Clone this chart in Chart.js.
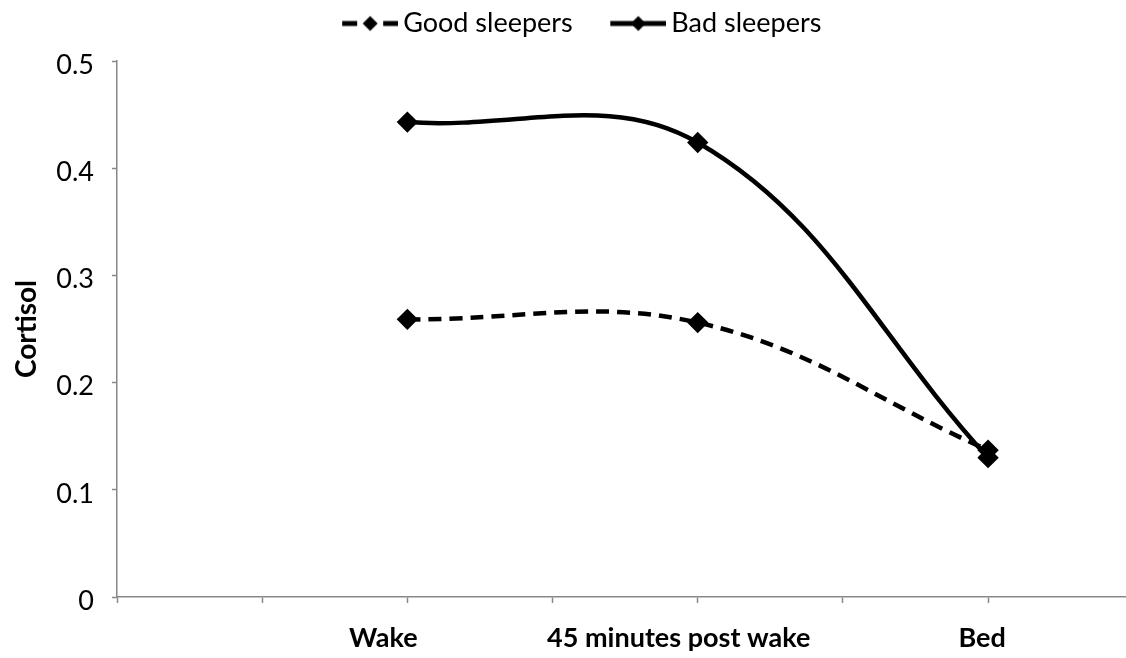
<!DOCTYPE html>
<html>
<head>
<meta charset="utf-8">
<script src="https://cdn.jsdelivr.net/npm/chart.js@4.4.1/dist/chart.umd.min.js"></script>
<style>
  html, body { margin: 0; padding: 0; background: #ffffff; }
  #wrap { width: 1126px; height: 658px; position: relative; }
</style>
</head>
<body>
<div id="wrap"><canvas id="c" width="1126" height="658"></canvas></div>
<script>
// ---- data ----
const tickLabels = ['', '', 'Wake', '', '45 minutes post wake', '', 'Bed'];
const categories = ['Wake', '45 minutes post wake', 'Bed'];
const goodSleepers = [0.259, 0.256, 0.137];
const badSleepers = [0.443, 0.424, 0.130];
const seriesNames = ['Good sleepers', 'Bad sleepers'];
const yTickValues = [0, 0.1, 0.2, 0.3, 0.4, 0.5];

// ---- style ----
const FONT = 'Lato, "Open Sans", sans-serif';
const FS = 27;
const labelShiftPx = [-24, -19, -6];   // category labels sit slightly left of their tick, as in the original
const LABEL_Y = 638;

function toPoints(values) {
  return categories.map((c, i) => ({ x: tickLabels.indexOf(c), y: values[i] }));
}

// legend sample images (line + diamond)
const BOXW = 75, EXTRA = 8.5, SAMPLE_W = 56;
function legendSample(dashed) {
  const cv = document.createElement('canvas');
  cv.width = BOXW + 2 * EXTRA; cv.height = 20;
  const g = cv.getContext('2d');
  g.fillStyle = '#000';
  g.strokeStyle = '#000';
  g.lineWidth = 5;
  const cy = 10, x1 = cv.width, x0 = x1 - SAMPLE_W, cx = (x0 + x1) / 2;
  if (dashed) {
    g.beginPath(); g.moveTo(x0, cy); g.lineTo(x0 + 15, cy); g.stroke();
    g.beginPath(); g.moveTo(x1 - 15, cy); g.lineTo(x1, cy); g.stroke();
  } else {
    g.beginPath(); g.moveTo(x0, cy); g.lineTo(x1, cy); g.stroke();
  }
  g.beginPath();
  g.moveTo(cx, cy - 7.5); g.lineTo(cx + 7.5, cy); g.lineTo(cx, cy + 7.5); g.lineTo(cx - 7.5, cy);
  g.closePath(); g.fill();
  return cv;
}
const legendImgs = [legendSample(true), legendSample(false)];

const PAD_LEFT = 10;

const legendGap = {
  id: 'legendGap',
  afterInit(chart) {
    const lg = chart.legend;
    if (!lg) return;
    const orig = lg.fit;
    lg.fit = function () { orig.call(this); this.height += 14; };
  }
};

const categoryLabels = {
  id: 'categoryLabels',
  afterDraw(chart) {
    const xs = chart.scales.x;
    const ctx = chart.ctx;
    ctx.save();
    ctx.font = 'bold ' + FS + 'px ' + FONT;
    ctx.fillStyle = '#000';
    ctx.textAlign = 'center';
    ctx.textBaseline = 'middle';
    categories.forEach((c, i) => {
      const px = xs.getPixelForValue(tickLabels.indexOf(c)) + labelShiftPx[i];
      ctx.fillText(c, px, LABEL_Y);
    });
    ctx.restore();
  }
};

new Chart(document.getElementById('c'), {
  type: 'line',
  plugins: [legendGap, categoryLabels],
  data: {
    datasets: [
      {
        label: seriesNames[0],
        data: toPoints(goodSleepers),
        borderColor: '#000',
        backgroundColor: '#000',
        borderWidth: 4.5,
        borderDash: [13, 8],
        tension: 0.38,
        pointStyle: 'rectRot',
        pointRadius: 7.5,
        pointBackgroundColor: '#000',
        pointBorderColor: '#000',
        fill: false
      },
      {
        label: seriesNames[1],
        data: toPoints(badSleepers),
        borderColor: '#000',
        backgroundColor: '#000',
        borderWidth: 4.5,
        tension: 0.38,
        pointStyle: 'rectRot',
        pointRadius: 7.5,
        pointBackgroundColor: '#000',
        pointBorderColor: '#000',
        fill: false
      }
    ]
  },
  options: {
    responsive: false,
    animation: false,
    devicePixelRatio: 1,
    layout: { autoPadding: false, padding: { left: PAD_LEFT, right: 0, top: 0, bottom: 0 } },
    plugins: {
      tooltip: { enabled: false },
      legend: {
        display: true,
        position: 'top',
        labels: {
          usePointStyle: true,
          pointStyleWidth: BOXW,
          boxHeight: 20,
          padding: 10,
          color: '#000',
          font: { family: FONT, size: FS },
          generateLabels: function (chart) {
            const items = Chart.defaults.plugins.legend.labels.generateLabels(chart);
            items.forEach((it, i) => { it.pointStyle = legendImgs[i]; });
            return items;
          }
        }
      }
    },
    scales: {
      x: {
        type: 'linear',
        min: 0,
        max: 6.95,
        afterBuildTicks: function (scale) {
          scale.ticks = tickLabels.map((t, i) => ({ value: i }));
        },
        afterFit: function (scale) {
          scale.height = 61;
          scale.paddingLeft = 0;
          scale.paddingRight = 0;
        },
        grid: {
          display: true,
          drawOnChartArea: false,
          drawTicks: true,
          tickLength: 6,
          tickWidth: 1.5,
          tickColor: '#888'
        },
        border: { display: true, color: '#888', width: 1.5 },
        ticks: {
          autoSkip: false,
          maxRotation: 0,
          padding: 20,
          color: '#000',
          font: { family: FONT, size: FS, weight: 'bold' },
          callback: function () { return ''; }
        }
      },
      y: {
        min: 0,
        max: 0.5,
        afterBuildTicks: function (scale) {
          scale.ticks = yTickValues.map(v => ({ value: v }));
        },
        afterFit: function (scale) {
          scale.width = 117 - PAD_LEFT;
          scale.paddingTop = 0;
          scale.paddingBottom = 0;
        },
        grid: {
          display: true,
          drawOnChartArea: false,
          drawTicks: true,
          tickLength: 5,
          tickWidth: 1.5,
          tickColor: '#888'
        },
        border: { display: true, color: '#888', width: 1.5 },
        title: {
          display: true,
          text: 'Cortisol',
          color: '#000',
          padding: { top: 0, bottom: 0 },
          font: { family: FONT, size: 28, weight: 'bold' }
        },
        ticks: {
          padding: 18,
          labelOffset: 4,
          color: '#000',
          font: { family: FONT, size: FS },
          callback: function (value) { return String(value); }
        }
      }
    }
  }
});
</script>
</body>
</html>
